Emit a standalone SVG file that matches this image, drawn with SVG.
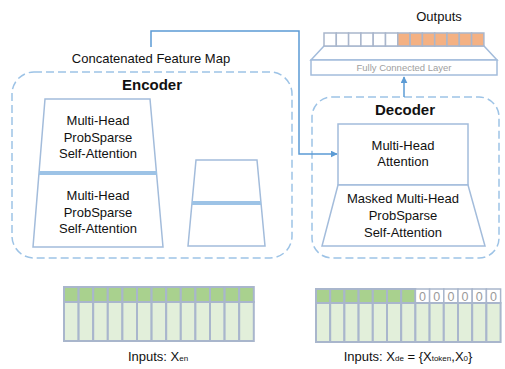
<svg xmlns="http://www.w3.org/2000/svg" xmlns:xlink="http://www.w3.org/1999/xlink" width="505" height="369" viewBox="0 0 505 369">
<defs>
<style>
.t{font-family:"Liberation Sans",Arial,sans-serif;font-size:13px;fill:#111;text-anchor:middle}
.b{font-weight:bold;font-size:15px}
.dash{fill:none;stroke:#9dc3e6;stroke-width:1.5;stroke-dasharray:8 4}
.sh{fill:#fff;stroke:#a3bcdb;stroke-width:1.5}
.sep{stroke:#9dc3e6;stroke-width:4}
.con{fill:none;stroke:#5b9bd5;stroke-width:1.5}
.g1{fill:#a9d18e;stroke:#a9b6cc;stroke-width:2}
.g2{fill:#e2efda;stroke:#a9b6cc;stroke-width:2}
.w{fill:#fff;stroke:#a9b6cc;stroke-width:1.5}
.o{fill:#f4b183;stroke:#a9b6cc;stroke-width:1.5}
.z{font-family:"Liberation Sans",Arial,sans-serif;font-size:12.5px;fill:#9a9a9a;text-anchor:middle}
</style>
<marker id="ah" viewBox="0 0 10 10" refX="9" refY="5" markerWidth="7" markerHeight="7" orient="auto" markerUnits="userSpaceOnUse">
<path d="M0,0L10,5L0,10z" fill="#5b9bd5"/>
</marker>
<g id="ec"><rect class="g1" x="0" y="0" width="14.6" height="15"/><rect class="g2" x="0" y="15" width="14.6" height="39"/></g>
<g id="dc"><rect class="g1" x="0" y="0" width="14.2" height="14"/><rect class="g2" x="0" y="14" width="14.2" height="39"/></g>
<g id="dz"><rect class="w" x="0" y="0" width="14.2" height="14"/><rect class="g2" x="0" y="14" width="14.2" height="39"/><text class="z" x="7.1" y="11.8">0</text></g>
</defs>

<g id="encoder">
<rect class="dash" x="12" y="72" width="280" height="186" rx="22"/>
<text class="t b" x="152" y="90">Encoder</text>
<polygon class="sh" points="45,99 150,99 163,247 33,247"/>
<line class="sep" x1="39" y1="173" x2="157" y2="173"/>
<text class="t" x="98" y="125">Multi-Head</text>
<text class="t" x="98" y="142">ProbSparse</text>
<text class="t" x="98" y="158">Self-Attention</text>
<text class="t" x="98" y="200">Multi-Head</text>
<text class="t" x="98" y="217">ProbSparse</text>
<text class="t" x="98" y="233">Self-Attention</text>
<polygon class="sh" points="196,160 257,160 265,246 188,246"/>
<line class="sep" x1="192" y1="203" x2="261" y2="203"/>
</g>

<g id="decoder">
<rect class="dash" x="312" y="97" width="187" height="161" rx="20"/>
<text class="t b" x="405" y="115">Decoder</text>
<rect class="sh" x="338" y="124" width="130" height="61"/>
<text class="t" x="403" y="150">Multi-Head</text>
<text class="t" x="403" y="166">Attention</text>
<polygon class="sh" points="338,185 468,185 485,246 322,246"/>
<text class="t" x="403" y="203">Masked Multi-Head</text>
<text class="t" x="403" y="220">ProbSparse</text>
<text class="t" x="403" y="237">Self-Attention</text>
</g>

<g id="fc">
<polygon class="sh" points="324,46 484,46 497,60 311,60"/>
<rect class="sh" x="311" y="60" width="186" height="15"/>
<text class="t" x="404" y="71" style="font-size:9.5px;fill:#a0a0a0">Fully Connected Layer</text>
</g>

<g id="outputs">
<text class="t" x="439" y="21">Outputs</text>
<rect class="w" x="324" y="33" width="12.3" height="13"/>
<rect class="w" x="336.3" y="33" width="12.3" height="13"/>
<rect class="w" x="348.6" y="33" width="12.3" height="13"/>
<rect class="w" x="360.9" y="33" width="12.3" height="13"/>
<rect class="w" x="373.2" y="33" width="12.3" height="13"/>
<rect class="w" x="385.5" y="33" width="12.3" height="13"/>
<rect class="o" x="397.8" y="33" width="12.3" height="13"/>
<rect class="o" x="410.1" y="33" width="12.3" height="13"/>
<rect class="o" x="422.4" y="33" width="12.3" height="13"/>
<rect class="o" x="434.7" y="33" width="12.3" height="13"/>
<rect class="o" x="447" y="33" width="12.3" height="13"/>
<rect class="o" x="459.3" y="33" width="12.3" height="13"/>
<rect class="o" x="471.6" y="33" width="12.3" height="13"/>
</g>

<g id="enc-inputs">
<use xlink:href="#ec" x="64" y="287"/>
<use xlink:href="#ec" x="78.6" y="287"/>
<use xlink:href="#ec" x="93.2" y="287"/>
<use xlink:href="#ec" x="107.8" y="287"/>
<use xlink:href="#ec" x="122.4" y="287"/>
<use xlink:href="#ec" x="137" y="287"/>
<use xlink:href="#ec" x="151.6" y="287"/>
<use xlink:href="#ec" x="166.2" y="287"/>
<use xlink:href="#ec" x="180.8" y="287"/>
<use xlink:href="#ec" x="195.4" y="287"/>
<use xlink:href="#ec" x="210" y="287"/>
<use xlink:href="#ec" x="224.6" y="287"/>
<use xlink:href="#ec" x="239.2" y="287"/>
<text class="t" x="158" y="361">Inputs: X<tspan style="font-size:8px">en</tspan></text>
</g>

<g id="dec-inputs">
<use xlink:href="#dc" x="316" y="289"/>
<use xlink:href="#dc" x="330.2" y="289"/>
<use xlink:href="#dc" x="344.4" y="289"/>
<use xlink:href="#dc" x="358.6" y="289"/>
<use xlink:href="#dc" x="372.8" y="289"/>
<use xlink:href="#dc" x="387" y="289"/>
<use xlink:href="#dc" x="401.2" y="289"/>
<use xlink:href="#dz" x="415.4" y="289"/>
<use xlink:href="#dz" x="429.6" y="289"/>
<use xlink:href="#dz" x="443.8" y="289"/>
<use xlink:href="#dz" x="458" y="289"/>
<use xlink:href="#dz" x="472.2" y="289"/>
<use xlink:href="#dz" x="486.4" y="289"/>
<text class="t" x="408" y="361">Inputs: X<tspan style="font-size:8px">de</tspan> = {X<tspan style="font-size:8px">token</tspan>,X<tspan style="font-size:8px">0</tspan>}</text>
</g>

<g id="connectors">
<text class="t" x="151" y="63">Concatenated Feature Map</text>
<path class="con" d="M151,47V31H299V154H337" marker-end="url(#ah)"/>
<path class="con" d="M404,97V77" marker-end="url(#ah)"/>
</g>
</svg>
